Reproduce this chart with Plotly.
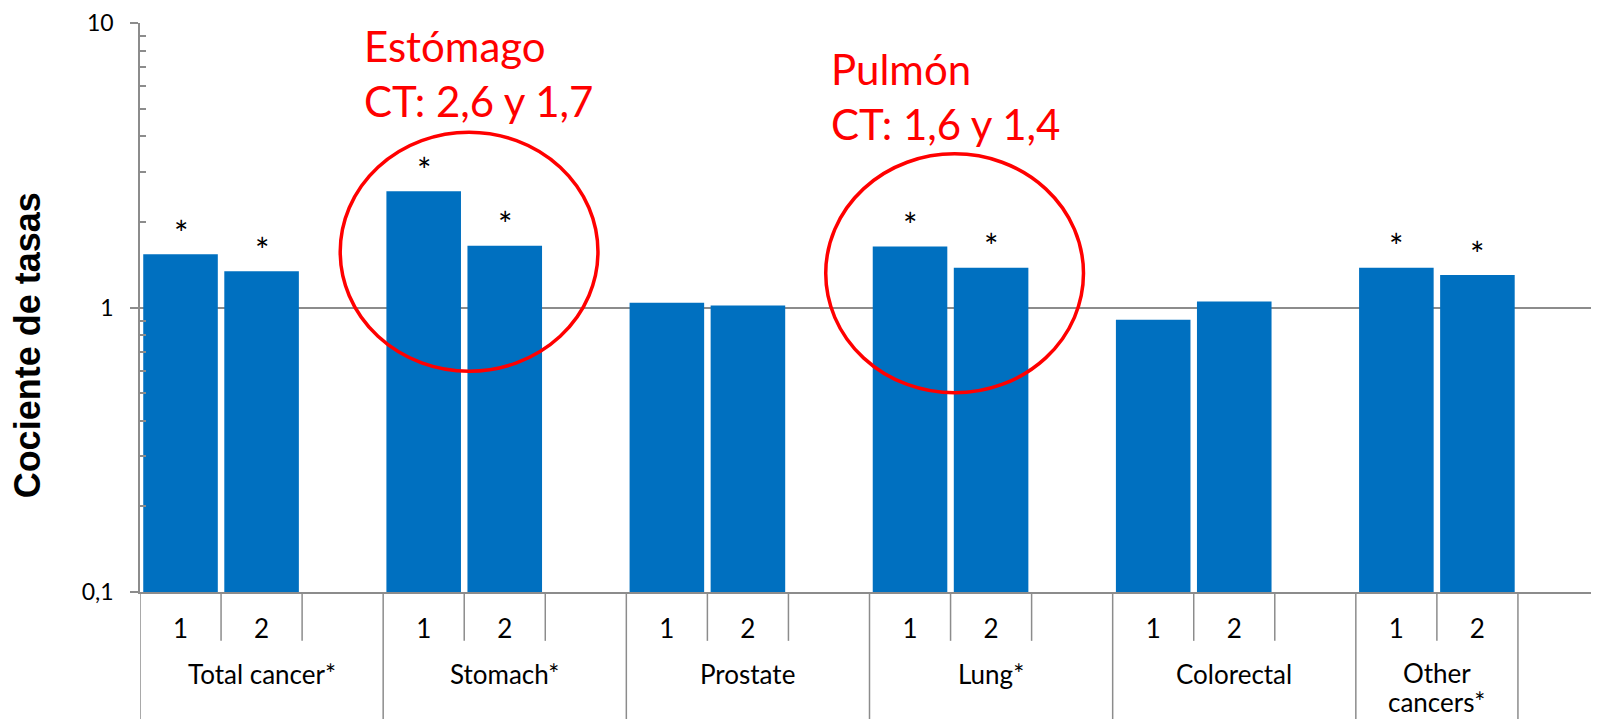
import math
import plotly.graph_objects as go

# ---------------- data ----------------
groups = ["Total cancer*", "Stomach*", "Prostate", "Lung*", "Colorectal", "Other<br>cancers*"]
sub_labels = ["1", "2"]
period1 = [1.54, 2.56, 1.04, 1.64, 0.906, 1.38]
period2 = [1.34, 1.65, 1.016, 1.38, 1.05, 1.30]
significant = [True, True, False, True, False, True]
y_tickvals = [0.1, 1, 10]
y_ticktext = ["0,1", "1", "10"]
callouts = [
    {"group": 1, "text": "Estómago<br>CT: 2,6 y 1,7"},
    {"group": 3, "text": "Pulmón<br>CT: 1,6 y 1,4"},
]

# ---------------- styles ----------------
BLUE = "#0070C0"
GRAY = "#8c8c8c"
RED = "#FF0000"
FONT = "Gill Sans MT, Gill Sans, Lato, sans-serif"
PAGE_OFF = 8                      # default body margin of the html page
WIN_W, WIN_H = 1599, 719
W, H = WIN_W - PAGE_OFF, WIN_H - PAGE_OFF
PLOT_TOP, PLOT_BOTTOM, PLOT_LEFT = 21, 592, 140   # window pixels
ML, MR = PLOT_LEFT - PAGE_OFF, 0
MT = PLOT_TOP - PAGE_OFF
MB = WIN_H - PLOT_BOTTOM
SLOTS_PER_GROUP = 3
callout_style = {
    1: {"ell_dx": 0.06, "ell_rx": 1.59, "ell_cy": 0.196, "ell_ry": 0.42, "tx": 2.235, "ty_win": 71.7},
    3: {"ell_dx": 0.05, "ell_rx": 1.59, "ell_cy": 0.120, "ell_ry": 0.42, "tx": 8.0, "ty_win": 94.5},
}

ph = PLOT_BOTTOM - PLOT_TOP
Y_LOG_MIN, Y_LOG_MAX = -1, 1

def py(ywin):
    return (PLOT_BOTTOM - ywin) / ph

def log_to_paper(v):
    return (v - Y_LOG_MIN) / (Y_LOG_MAX - Y_LOG_MIN)

def slot(g, s):
    return SLOTS_PER_GROUP * g + s

fig = go.Figure()
for s, vals in enumerate([period1, period2]):
    fig.add_trace(go.Bar(
        x=[slot(g, s) for g in range(len(groups))],
        y=vals,
        width=0.92,
        marker=dict(color=BLUE, line=dict(width=0)),
        name=f"Periodo {sub_labels[s]}",
        showlegend=False,
    ))

annotations = []
# significance asterisks
for g in range(len(groups)):
    if significant[g]:
        for s, vals in enumerate([period1, period2]):
            annotations.append(dict(
                x=slot(g, s), y=math.log10(vals[g]), xref="x", yref="y",
                text="*", showarrow=False, yshift=22,
                font=dict(family=FONT, size=34, color="black"),
            ))

# group labels (one annotation per text line)
for g, name in enumerate(groups):
    if g == len(groups) - 1:
        cx = (slot(g, 0) + slot(g, 1)) / 2
    else:
        cx = (slot(g, 0) + slot(g, SLOTS_PER_GROUP - 1)) / 2
    lines = name.split("<br>")
    top = 674 if len(lines) == 1 else 673
    for i, line in enumerate(lines):
        annotations.append(dict(
            x=cx, y=py(top + 29 * i), xref="x", yref="paper",
            text=line, showarrow=False, yanchor="middle",
            font=dict(family=FONT, size=26, color="black"),
        ))

# y axis title
annotations.append(dict(
    x=(27.5 - PLOT_LEFT) / (WIN_W - PLOT_LEFT), y=py(345), xref="paper", yref="paper",
    text="<b>Cociente de tasas</b>", textangle=-90, showarrow=False,
    xanchor="center", yanchor="middle",
    font=dict(family="Liberation Sans, Arial, sans-serif", size=36, color="black"),
))

shapes = []
# category dividers
last_slot = slot(len(groups) - 1, 1)
bounds = [b + 0.5 for b in range(-1, last_slot + 1)]
group_bounds = set([-0.5] + [slot(g, 0) - 0.5 for g in range(len(groups))] + [last_slot + 0.5])
for b in bounds:
    full = b in group_bounds
    y1px = WIN_H + 2 if full else 641
    shapes.append(dict(
        type="line", xref="x", yref="paper", x0=b, x1=b,
        y0=0, y1=py(y1px),
        line=dict(color=GRAY, width=1.5), layer="above",
    ))

# callouts
for c in callouts:
    st = callout_style[c["group"]]
    cx = slot(c["group"], 0) + 0.5 + st["ell_dx"]
    shapes.append(dict(
        type="circle", xref="x", yref="paper",
        x0=cx - st["ell_rx"], x1=cx + st["ell_rx"],
        y0=log_to_paper(st["ell_cy"] - st["ell_ry"]),
        y1=log_to_paper(st["ell_cy"] + st["ell_ry"]),
        line=dict(color=RED, width=3.5), layer="above",
    ))
    annotations.append(dict(
        x=st["tx"], y=py(st["ty_win"]), xref="x", yref="paper",
        text=c["text"], showarrow=False, xanchor="left", yanchor="middle", align="left",
        font=dict(family=FONT, size=42, color=RED),
    ))

tick_x = [slot(g, s) for g in range(len(groups)) for s in range(2)]
tick_t = [sub_labels[s] for g in range(len(groups)) for s in range(2)]

minor_vals = [m * 10 ** e for e in (-1, 0) for m in range(2, 10)]

fig.update_layout(
    width=W, height=H,
    margin=dict(l=ML, r=MR, t=MT, b=MB, pad=0),
    paper_bgcolor="white", plot_bgcolor="white",
    barmode="overlay",
    showlegend=False,
    annotations=annotations,
    shapes=shapes,
    xaxis=dict(
        range=[-0.5, 17.5], tickmode="array", tickvals=tick_x, ticktext=tick_t,
        ticks="", showgrid=False, zeroline=False,
        showline=True, linecolor=GRAY, linewidth=1.5,
        tickfont=dict(family=FONT, size=26, color="black"),
        ticklabelstandoff=13,
    ),
    yaxis=dict(
        type="log", range=[Y_LOG_MIN, Y_LOG_MAX], tickmode="array",
        tickvals=y_tickvals, ticktext=y_ticktext,
        ticks="outside", ticklen=8, tickcolor=GRAY, tickwidth=1.5,
        showgrid=True, gridcolor=GRAY, gridwidth=1.5, zeroline=False,
        showline=True, linecolor=GRAY, linewidth=1.5,
        tickfont=dict(family=FONT, size=23, color="black"),
        ticklabelstandoff=12, ticklabeloverflow="allow",
        minor=dict(tickmode="array", tickvals=minor_vals, ticks="inside",
                   ticklen=6, tickcolor=GRAY, tickwidth=1.5, showgrid=False),
    ),
)

fig.write_html("out.html")
